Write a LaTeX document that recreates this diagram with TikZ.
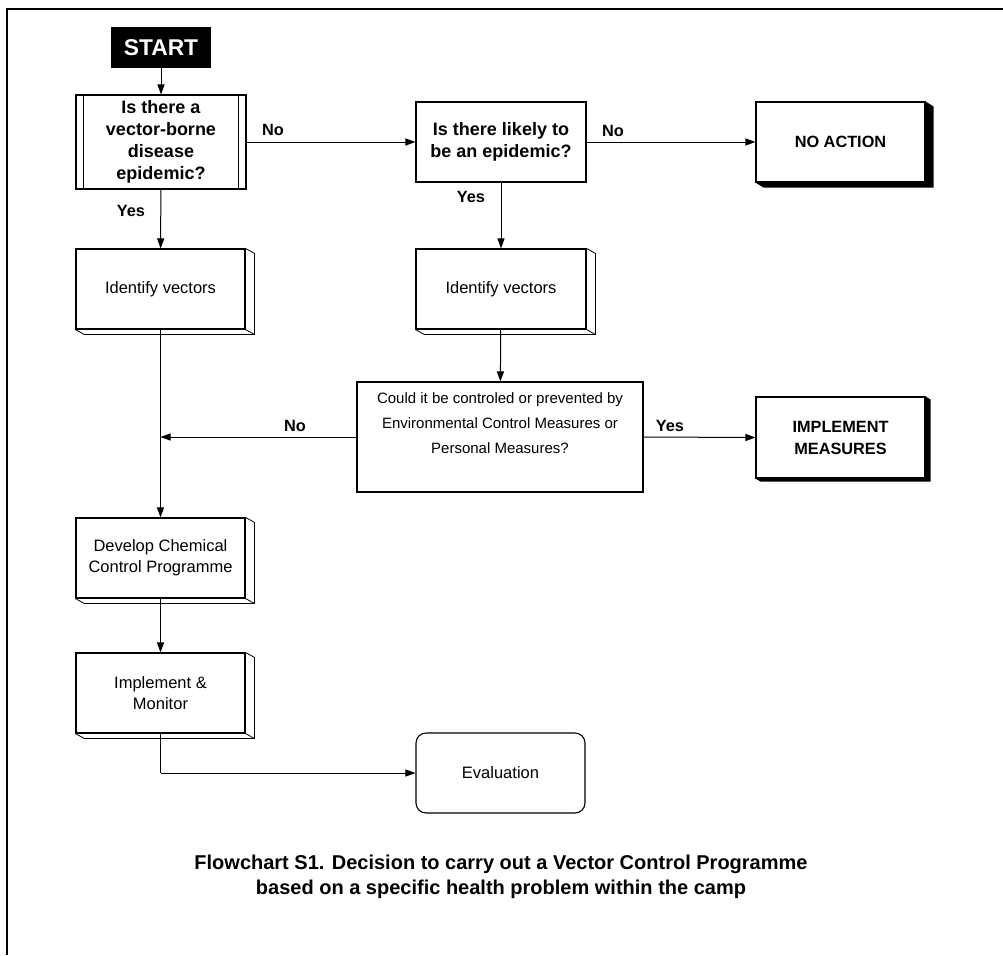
\documentclass[tikz,border=0pt]{standalone}
\usepackage{fontspec}
\setmainfont{Liberation Sans}
\usetikzlibrary{arrows.meta}
\newcommand\threed[1]{%
  \draw[line width=0.8pt] (#1.north east) -- ++(9,5) -- ([shift={(9,5)}]#1.south east) -- ([shift={(9,5)}]#1.south west) -- (#1.south west);
  \draw[line width=0.8pt] (#1.south east) -- ++(9,5);}
\newcommand\blackshadow[3]{%
  \fill (#1.south west) -- ([shift={(#2,#3)}]#1.south west) -- ([shift={(#2,#3)}]#1.south east) -- ([shift={(#2,#3)}]#1.north east) -- (#1.north east) -- (#1.south east) -- cycle;}
\begin{document}
\begin{tikzpicture}[x=1pt,y=-1pt,
  box/.style={draw,line width=1.1pt,minimum width=169pt,minimum height=80pt,inner sep=0pt,align=center,font=\fontsize{16.5}{21}\selectfont},
  bbox/.style={box,font=\fontsize{18}{22}\selectfont\bfseries},
  endbox/.style={box,fill=white,font=\fontsize{16.3}{22}\selectfont\bfseries},
  lbl/.style={inner sep=0pt,font=\fontsize{16.3}{20}\selectfont\bfseries},
  arr/.style={line width=1pt,-{Triangle[length=10pt,width=7pt]}},
  ln/.style={line width=1pt}]
\useasboundingbox (0,0) rectangle (1003,955);
% frame
\draw[line width=2pt] (7,955) -- (7,9.5) -- (1003,9.5);
% nodes
\node[fill=black,text=white,minimum width=100pt,minimum height=41pt,inner sep=0pt,font=\fontsize{22.8}{26}\selectfont\bfseries] (start) at (161,47.5) {START};
\node[bbox,minimum width=170pt,minimum height=94pt] (q1) at (161,142) {Is there a\\vector-borne\\disease\\epidemic?};
\draw[line width=1.1pt] ([xshift=8pt]q1.north west) -- ([xshift=8pt]q1.south west);
\draw[line width=1.1pt] ([xshift=-8pt]q1.north east) -- ([xshift=-8pt]q1.south east);
\node[bbox,minimum width=170pt] (q2) at (501,142) {Is there likely to\\be an epidemic?};
\node[endbox] (noact) at (840.5,142) {NO ACTION};
\blackshadow{noact}{8}{5}
\node[box] (iv1) at (160.5,289) {Identify vectors};
\threed{iv1}
\node[box,minimum width=170pt] (iv2) at (501,289) {Identify vectors};
\threed{iv2}
\node[draw,line width=1.1pt,minimum width=286pt,minimum height=110pt,inner sep=0pt] (could) at (500,437) {};
\node[align=center,inner sep=0pt,font=\fontsize{15}{25}\selectfont] (couldtxt) at (500,423) {Could it be controled or prevented by\\Environmental Control Measures or\\Personal Measures?};
\node[endbox,minimum height=81pt] (impm) at (840.5,437.5) {IMPLEMENT\\MEASURES};
\blackshadow{impm}{5}{3}
\node[box] (dev) at (160.5,558) {Develop Chemical\\Control Programme};
\threed{dev}
\node[box] (imp) at (160.5,693) {Implement \&\\Monitor};
\threed{imp}
\node[box,rounded corners=10pt] (eval) at (500.5,773) {Evaluation};
\coordinate (j1) at (iv1.south |- could.west);
\coordinate (j2) at (imp.south |- eval.west);
% connectors
\draw[arr] (start) -- (q1);
\draw[arr] (q1.east) -- (q2.west);
\draw[arr] (q2.east) -- (noact.west);
\draw[arr] (q1) -- (iv1);
\draw[arr] (q2) -- (iv2);
\draw[arr] (iv2) -- (could);
\draw[arr] (could.west) -- (j1);
\draw[arr] (could.east) -- (impm.west);
\draw[arr] (iv1) -- (dev);
\draw[arr] (dev) -- (imp);
\draw[ln] (imp.south) -- (j2);
\draw[arr] (j2) -- (eval.west);
% labels
\node[lbl] (l1) at (273,130) {No};
\node[lbl] (l2) at (613,131) {No};
\node[lbl] (l3) at (131,211) {Yes};
\node[lbl] (l4) at (471,197) {Yes};
\node[lbl] (l5) at (295,426) {No};
\node[lbl] (l6) at (670,426) {Yes};
% caption
\node[align=center,inner sep=0pt,font=\fontsize{20}{25}\selectfont\bfseries] (cap) at (501,876.5) {Flowchart S1. Decision to carry out a Vector Control Programme\\based on a specific health problem within the camp};
\end{tikzpicture}
\end{document}
